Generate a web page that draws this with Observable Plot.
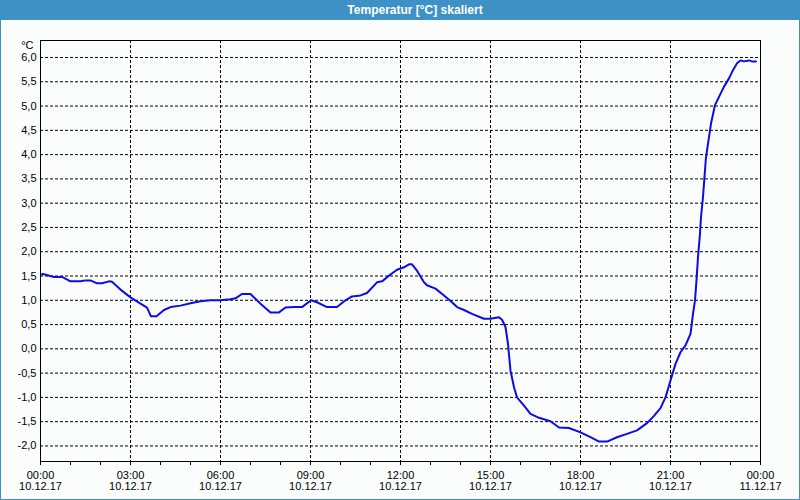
<!DOCTYPE html>
<html><head><meta charset="utf-8">
<script src="https://cdn.jsdelivr.net/npm/d3@7"></script>
<script src="https://cdn.jsdelivr.net/npm/@observablehq/plot@0.6"></script>
<style>
html,body{margin:0;padding:0;background:#fbfdfc;}
#wrap{position:relative;width:800px;height:500px;overflow:hidden;background:#fbfdfc;font-family:"Liberation Sans",Arial,sans-serif;}
#title{position:absolute;left:0;top:0;width:800px;height:20px;background:#3d91c5;color:#fff;font-weight:bold;font-size:12px;line-height:20px;}
#title span{position:absolute;left:415px;top:0;transform:translateX(-50%);white-space:nowrap;}
#border{position:absolute;left:0;top:0;width:800px;height:500px;box-sizing:border-box;border:1px solid #3d91c5;border-top:none;pointer-events:none;}
#chart{position:absolute;left:0;top:20px;}
</style></head>
<body>
<div id="wrap">
  <div id="title"><span>Temperatur [°C] skaliert</span></div>
  <div id="chart"></div>
  <div id="border"></div>
</div>
<script>
// minutes since 10.12.17 00:00
const minutes = [2,5,27,43,60,80,90,100,113,123,137,143,160,180,200,213,221,232,247,260,280,300,320,340,360,380,390,403,420,440,460,477,490,507,523,541,553,573,593,610,623,640,653,673,683,700,713,727,737,743,753,767,773,790,807,823,833,847,863,887,900,917,923,930,935,940,947,953,967,980,997,1020,1037,1057,1080,1100,1117,1133,1153,1173,1193,1213,1227,1240,1250,1260,1270,1280,1290,1300,1305,1309,1312,1315,1319,1321,1325,1328,1331,1337,1341,1349,1357,1367,1377,1383,1393,1400,1407,1417,1423,1431];
const temps = [1.53,1.54,1.48,1.48,1.39,1.39,1.41,1.41,1.35,1.35,1.39,1.38,1.22,1.06,0.93,0.85,0.67,0.67,0.80,0.86,0.89,0.94,0.98,1.00,1.00,1.02,1.04,1.13,1.13,0.93,0.75,0.75,0.85,0.86,0.86,1.00,0.96,0.86,0.86,1.00,1.08,1.10,1.15,1.37,1.39,1.53,1.63,1.68,1.74,1.74,1.61,1.37,1.31,1.24,1.10,0.96,0.86,0.80,0.72,0.62,0.62,0.65,0.60,0.45,0.10,-0.45,-0.79,-1.00,-1.17,-1.34,-1.42,-1.49,-1.62,-1.63,-1.72,-1.82,-1.91,-1.91,-1.82,-1.75,-1.68,-1.53,-1.38,-1.22,-1.00,-0.65,-0.31,-0.07,0.07,0.31,0.72,1.00,1.41,1.89,2.37,2.71,3.13,3.54,3.95,4.36,4.64,5.02,5.19,5.40,5.57,5.70,5.88,5.94,5.92,5.94,5.92,5.92];
const yTickValues = [-2,-1.5,-1,-0.5,0,0.5,1,1.5,2,2.5,3,3.5,4,4.5,5,5.5,6];
const tickHours = [0,1,2,3,4,5,6,7,8,9,10,11,12,13,14,15,16,17,18,19,20,21,22,23,24];
const gridHours = [3,6,9,12,15,18,21];
const yDomain = [-2.32, 6.35];
const unitLabel = "°C";

const t0 = Date.UTC(2017, 11, 10);
const toDate = m => new Date(t0 + m * 60000);
const data = minutes.map((m, i) => ({t: toDate(m), v: temps[i]}));
const fmtTime = d3.utcFormat("%H:%M");
const fmtDay = d3.utcFormat("%d.%m.%y");
const comma = v => d3.format(".1f")(v).replace(".", ",").replace("−", "-");

const chart = Plot.plot({
  width: 800,
  height: 480,
  marginTop: 20,
  marginBottom: 39,
  marginLeft: 40,
  marginRight: 40,
  style: {fontFamily: "'Liberation Sans', Arial, sans-serif", fontSize: "11px", background: "#fbfdfc", color: "black"},
  x: {
    type: "utc",
    domain: [toDate(0), toDate(1440)],
    ticks: tickHours.map(h => toDate(h * 60)),
    tickSize: 4,
    tickPadding: 6,
    tickFormat: d => (d.getUTCHours() % 3 === 0 || +d === +toDate(1440)) && d.getUTCMinutes() === 0 ? fmtTime(d) + "\n" + fmtDay(d) : "",
    label: null
  },
  y: {
    domain: yDomain,
    ticks: yTickValues,
    tickSize: 0,
    tickPadding: 4,
    tickFormat: comma,
    label: null
  },
  marks: [
    Plot.ruleY(yTickValues, {stroke: "black", strokeDasharray: "3,2", strokeWidth: 1}),
    Plot.ruleX(gridHours.map(h => toDate(h * 60)), {stroke: "black", strokeDasharray: "3,2", strokeWidth: 1}),
    Plot.frame({stroke: "black", strokeWidth: 1}),
    Plot.line(data, {x: "t", y: "v", stroke: "#0c0ce6", strokeWidth: 2}),
    Plot.text([unitLabel], {frameAnchor: "top-left", dx: -7, dy: 1, textAnchor: "end", fontSize: 11, fill: "black"})
  ]
});
document.getElementById("chart").appendChild(chart);
</script>
</body></html>
